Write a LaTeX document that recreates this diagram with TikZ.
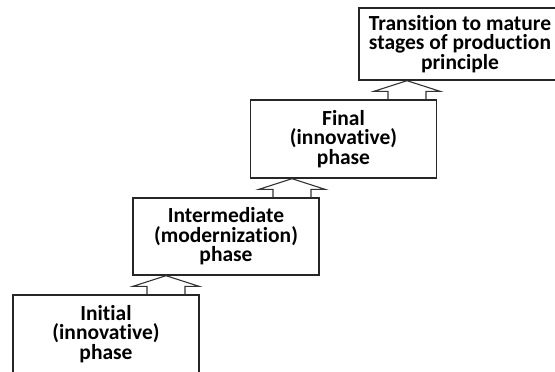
\documentclass[tikz,border=0pt]{standalone}
\usepackage{fontspec}
\setmainfont[RawFeature={-liga;-clig}]{Carlito}
\usetikzlibrary{calc}
\begin{document}
\begin{tikzpicture}[x=1pt,y=1pt,
  box/.style={draw=black!85, line width=1.4pt, minimum width=186pt, minimum height=78pt,
    inner sep=0pt, align=center, font=\fontsize{21.5}{19.5}\selectfont\bfseries, text=black},
  blk/.style={draw=black!80, line width=1.1pt, line join=miter}]
\useasboundingbox (0,0) rectangle (555,-372);
\clip (0,0) rectangle (555,-372);
\node[box] (b1) at (106,-334) {Initial\\(innovative)\\phase};
\node[box, minimum height=77pt] (b2) at (226,-236.5) {Intermediate\\(modernization)\\phase};
\node[box] (b3) at (343.5,-139) {Final\\(innovative)\\phase};
\node[box, minimum width=202pt, minimum height=72pt] (b4) at (460,-44) {Transition to mature\\stages of production\\principle};
\coordinate (x1) at (166,0);
\coordinate (x2) at (292,0);
\coordinate (x3) at (407,0);
\draw[blk] ($(b1.north -| x1)+(-19,0)$) -- ++(0,8) -- ++(-14,0) -- (b2.south -| x1)
  -- ($(b1.north -| x1)+(33,8)$) -- ++(-14,0) -- ++(0,-8);
\draw[blk] ($(b2.north -| x2)+(-19,0)$) -- ++(0,8) -- ++(-14,0) -- (b3.south -| x2)
  -- ($(b2.north -| x2)+(33,8)$) -- ++(-14,0) -- ++(0,-8);
\draw[blk] ($(b3.north -| x3)+(-19,0)$) -- ++(0,8) -- ++(-14,0) -- (b4.south -| x3)
  -- ($(b3.north -| x3)+(33,8)$) -- ++(-14,0) -- ++(0,-8);
\end{tikzpicture}
\end{document}
